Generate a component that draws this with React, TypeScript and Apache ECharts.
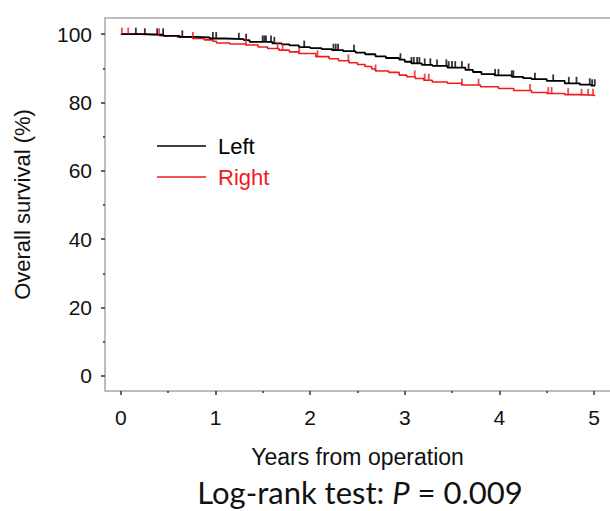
import React, { useEffect, useRef } from "react";
import * as echarts from "echarts";

// Kaplan–Meier step points (years, survival %)
const leftTimes = [0, 0.2, 0.45, 0.62, 0.8, 0.94, 1.1, 1.3, 1.36, 1.6, 1.7, 1.78, 1.88, 2.0, 2.12, 2.23, 2.35, 2.48, 2.58, 2.69, 2.8, 2.94, 3.0, 3.07, 3.18, 3.29, 3.45, 3.64, 3.72, 3.81, 3.95, 4.13, 4.25, 4.34, 4.5, 4.69, 4.85, 4.97];
const leftSurv = [100, 99.8, 99.5, 99.2, 99.0, 98.7, 98.5, 98.2, 97.7, 97.3, 97.0, 96.7, 96.2, 95.9, 95.6, 95.3, 95.0, 94.6, 94.1, 93.5, 93.0, 92.5, 91.9, 91.4, 91.0, 90.7, 90.2, 89.5, 88.9, 88.3, 87.9, 87.5, 87.1, 86.8, 86.3, 85.6, 85.2, 84.9];
const leftEnd = 5.01;
const leftCensor = [0.158, 0.253, 0.383, 0.446, 0.649, 0.972, 1.007, 1.246, 1.323, 1.498, 1.516, 1.533, 1.586, 1.621, 1.937, 2.246, 2.27, 2.295, 2.463, 2.954, 3.07, 3.095, 3.13, 3.154, 3.21, 3.27, 3.34, 3.439, 3.463, 3.498, 3.533, 3.603, 3.674, 3.954, 3.989, 4.13, 4.147, 4.375, 4.568, 4.733, 4.814, 4.954, 4.979, 5.007];

const rightTimes = [0, 0.2, 0.41, 0.6, 0.76, 0.88, 0.97, 1.01, 1.15, 1.32, 1.45, 1.55, 1.67, 1.78, 1.88, 2.06, 2.2, 2.3, 2.41, 2.5, 2.58, 2.65, 2.69, 2.83, 2.94, 3.02, 3.11, 3.2, 3.29, 3.45, 3.6, 3.8, 3.99, 4.15, 4.34, 4.5, 4.69, 4.85, 5.0];
const rightSurv = [100, 99.8, 99.5, 99.1, 98.7, 98.3, 97.9, 97.4, 97.1, 96.8, 96.2, 95.8, 95.3, 94.8, 94.3, 93.4, 92.8, 92.2, 91.6, 91.1, 90.5, 89.8, 89.2, 88.8, 88.0, 87.5, 87.0, 86.5, 86.0, 85.6, 85.1, 84.6, 84.1, 83.5, 82.9, 82.6, 82.3, 82.1, 81.9];
const rightEnd = 5.01;
const rightCensor = [0.01, 0.077, 0.404, 0.761, 1.323, 1.656, 1.709, 1.884, 2.077, 2.404, 2.691, 3.105, 3.21, 3.253, 3.603, 3.779, 4.323, 4.516, 4.551, 4.726, 4.867, 4.937, 4.989];

const seriesNames = ["Left", "Right"];
const xTicks = [0, 1, 2, 3, 4, 5];
const xMinorTicks = [0.5, 1.5, 2.5, 3.5, 4.5];
const yTicks = [0, 20, 40, 60, 80, 100];
const yMinorTicks = [10, 30, 50, 70, 90];
const xRange = [-0.168, 5.168];
const yRange = [-4.4, 104.7];

const BLACK = "#000000";
const RED = "#ee1c1c";
const FONT = "'Liberation Sans', Arial, sans-serif";
const TICK = "#333333";

function survAt(times: number[], surv: number[], t: number): number {
  let v = surv[0];
  for (let i = 0; i < times.length; i++) {
    if (times[i] <= t) v = surv[i];
  }
  return v;
}

function stepData(times: number[], surv: number[], end: number) {
  const d = times.map((t, i) => [t, surv[i]]);
  d.push([end, surv[surv.length - 1]]);
  return d;
}

export default function App() {
  const ref = useRef<HTMLDivElement>(null);
  useEffect(() => {
    if (!ref.current) return;
    const chart = echarts.init(ref.current, null, { renderer: "svg" });
    const censorSeries = (name: string, times: number[], surv: number[], cens: number[], color: string) => ({
      name,
      type: "scatter",
      clip: false,
      symbol: "rect",
      symbolSize: [1.8, 6.5],
      symbolOffset: [0, -3.2],
      itemStyle: { color },
      data: cens.map((t) => [t, survAt(times, surv, t)]),
      z: 4,
    });
    const minorAxisBase = {
      type: "value",
      axisLine: { show: false, onZero: false },
      splitLine: { show: false },
      axisLabel: { show: false },
    };
    chart.setOption({
      animation: false,
      backgroundColor: "#ffffff",
      grid: { left: 105, top: 18, width: 507, height: 373, containLabel: false },
      legend: {
        orient: "vertical",
        left: 157,
        top: 135,
        padding: 0,
        itemGap: 9,
        icon: "rect",
        itemWidth: 49,
        itemHeight: 1.6,
        selectedMode: false,
        data: [
          { name: seriesNames[0], textStyle: { color: BLACK } },
          { name: seriesNames[1], textStyle: { color: RED } },
        ],
        textStyle: { fontFamily: FONT, fontSize: 22, padding: [0, 0, 0, 7] },
      },
      xAxis: [
        {
          type: "value",
          min: xRange[0],
          max: xRange[1],
          axisLine: { show: false, onZero: false },
          axisTick: { show: true, length: 4, customValues: xTicks, lineStyle: { color: TICK, width: 1.5 } },
          splitLine: { show: false },
          axisLabel: { fontFamily: FONT, fontSize: 21, color: "#111", margin: 16, customValues: xTicks },
          name: "Years from operation",
          nameLocation: "middle",
          nameGap: 54,
          nameTextStyle: { fontFamily: FONT, fontSize: 23, color: "#111" },
        },
        {
          ...minorAxisBase,
          min: xRange[0],
          max: xRange[1],
          position: "bottom",
          axisTick: { show: true, length: 2, customValues: xMinorTicks, lineStyle: { color: TICK, width: 1.5 } },
        },
      ],
      yAxis: [
        {
          type: "value",
          min: yRange[0],
          max: yRange[1],
          axisLine: { show: false, onZero: false },
          axisTick: { show: true, length: 4, customValues: yTicks, lineStyle: { color: TICK, width: 1.5 } },
          splitLine: { show: false },
          axisLabel: { fontFamily: FONT, fontSize: 21, color: "#111", margin: 13, customValues: yTicks },
          name: "Overall survival (%)",
          nameLocation: "middle",
          nameGap: 72,
          nameTextStyle: { fontFamily: FONT, fontSize: 22, color: "#111" },
        },
        {
          ...minorAxisBase,
          min: yRange[0],
          max: yRange[1],
          position: "left",
          axisTick: { show: true, length: 2, customValues: yMinorTicks, lineStyle: { color: TICK, width: 1.5 } },
        },
      ],
      graphic: [
        {
          type: "rect",
          shape: { x: 105, y: 18, width: 515, height: 373 },
          style: { fill: "none", stroke: "#a8a8a8", lineWidth: 1.5 },
          silent: true,
          z: 0,
        },
        {
          type: "text",
          x: 360,
          y: 492,
          style: {
            text: "{a|Log-rank test: }{b|P}{a| = 0.009}",
            align: "center",
            verticalAlign: "middle",
            rich: {
              a: { fontFamily: "Lato, 'Open Sans', sans-serif", fontSize: 31, fill: "#111" },
              b: { fontFamily: "Lato, 'Open Sans', sans-serif", fontSize: 31, fontStyle: "italic", fill: "#111" },
            },
          },
        },
      ],
      series: [
        {
          name: seriesNames[0],
          type: "line",
          step: "end",
          clip: false,
          symbol: "none",
          lineStyle: { color: BLACK, width: 1.8 },
          itemStyle: { color: BLACK },
          data: stepData(leftTimes, leftSurv, leftEnd),
          z: 3,
        },
        {
          name: seriesNames[1],
          type: "line",
          step: "end",
          clip: false,
          symbol: "none",
          lineStyle: { color: RED, width: 1.6 },
          itemStyle: { color: RED },
          data: stepData(rightTimes, rightSurv, rightEnd),
          z: 2,
        },
        censorSeries("Left censored", leftTimes, leftSurv, leftCensor, BLACK),
        censorSeries("Right censored", rightTimes, rightSurv, rightCensor, RED),
      ],
    });
    return () => chart.dispose();
  }, []);
  return (
    <div
      ref={ref}
      style={{ position: "fixed", left: 0, top: 0, width: 610, height: 511, background: "#fff" }}
    />
  );
}
